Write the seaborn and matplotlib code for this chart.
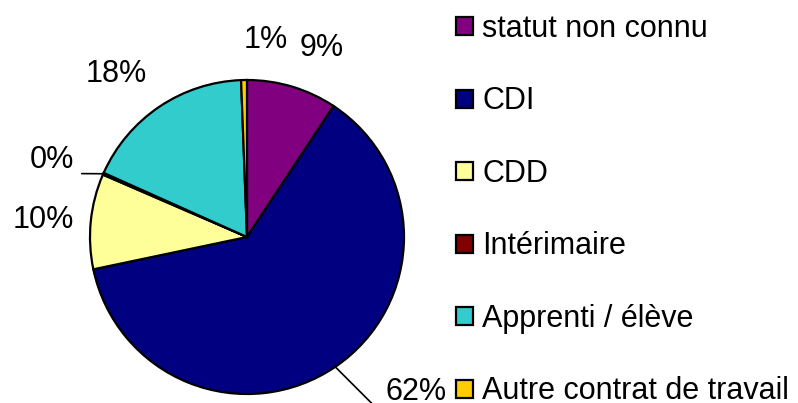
import numpy as np
import matplotlib
matplotlib.use("Agg")
import matplotlib.pyplot as plt
import seaborn as sns
from matplotlib.patches import Patch

# données (parts en %)
categories = ["statut non connu", "CDI", "CDD", "Intérimaire",
              "Apprenti / élève", "Autre contrat de travail"]
values = [9.3, 62.4, 9.8, 0.2, 17.7, 0.6]
colors = ["#800080", "#000080", "#FFFF99", "#800000", "#33CCCC", "#FFCC00"]

sns.set_theme(style="white")
plt.rcParams["font.family"] = ["Liberation Sans", "DejaVu Sans"]
plt.rcParams["text.color"] = "black"

fig = plt.figure(figsize=(7.98, 4.03), dpi=100)
# axe carré : centre (247, 237) px, rayon 157 px
ax = fig.add_axes([90 / 798, 9 / 403, 314 / 798, 314 / 403])

pal = sns.color_palette(colors)
wedges, _ = ax.pie(values, colors=pal, startangle=90, counterclock=False,
                   wedgeprops=dict(edgecolor="black", linewidth=1.6))
for w in wedges:
    w.set_clip_on(False)
ax.set_xlim(-1, 1)
ax.set_ylim(-1, 1)
ax.set_aspect("equal")
ax.axis("off")

# étiquettes de pourcentage
fs = 22
# (distance, ha, va) pour les étiquettes simples
simple = {0: (1.16, "left", "bottom"), 2: (1.11, "right", "center"),
          4: (1.14, "right", "bottom"), 5: (1.16, "left", "bottom")}
for i, w in enumerate(wedges):
    ang = np.deg2rad((w.theta1 + w.theta2) / 2)
    dx, dy = np.cos(ang), np.sin(ang)
    txt = f"{values[i]:.0f}%"
    if i in simple:
        d, ha, va = simple[i]
        ax.text(d * dx, d * dy, txt, ha=ha, va=va, fontsize=fs, color="black")
    elif i == 1:
        ax.annotate(txt, xy=(dx, dy), xytext=(0.88, -0.99), ha="left",
                    va="center", fontsize=fs, annotation_clip=False,
                    arrowprops=dict(arrowstyle="-", color="black", lw=1.2,
                                    connectionstyle="angle,angleA=0,angleB=-45",
                                    relpos=(0, 0.12), shrinkA=1, shrinkB=0))
    else:
        ax.annotate(txt, xy=(dx, dy), xytext=(-1.10, 0.49), ha="right",
                    va="center", fontsize=fs, annotation_clip=False,
                    arrowprops=dict(arrowstyle="-", color="black", lw=1.2,
                                    relpos=(1, 0.05), shrinkA=3, shrinkB=0))

handles = [Patch(facecolor=c, edgecolor="black", linewidth=1.6) for c in pal]
fig.legend(handles, categories, loc="upper left",
           bbox_to_anchor=(456 / 798, 1 - 14 / 403), frameon=False,
           fontsize=fs, handlelength=0.56, handleheight=0.53,
           handletextpad=0.3, labelspacing=1.39, borderpad=0,
           borderaxespad=0, labelcolor="black")

fig.savefig("out.png", dpi=100)
